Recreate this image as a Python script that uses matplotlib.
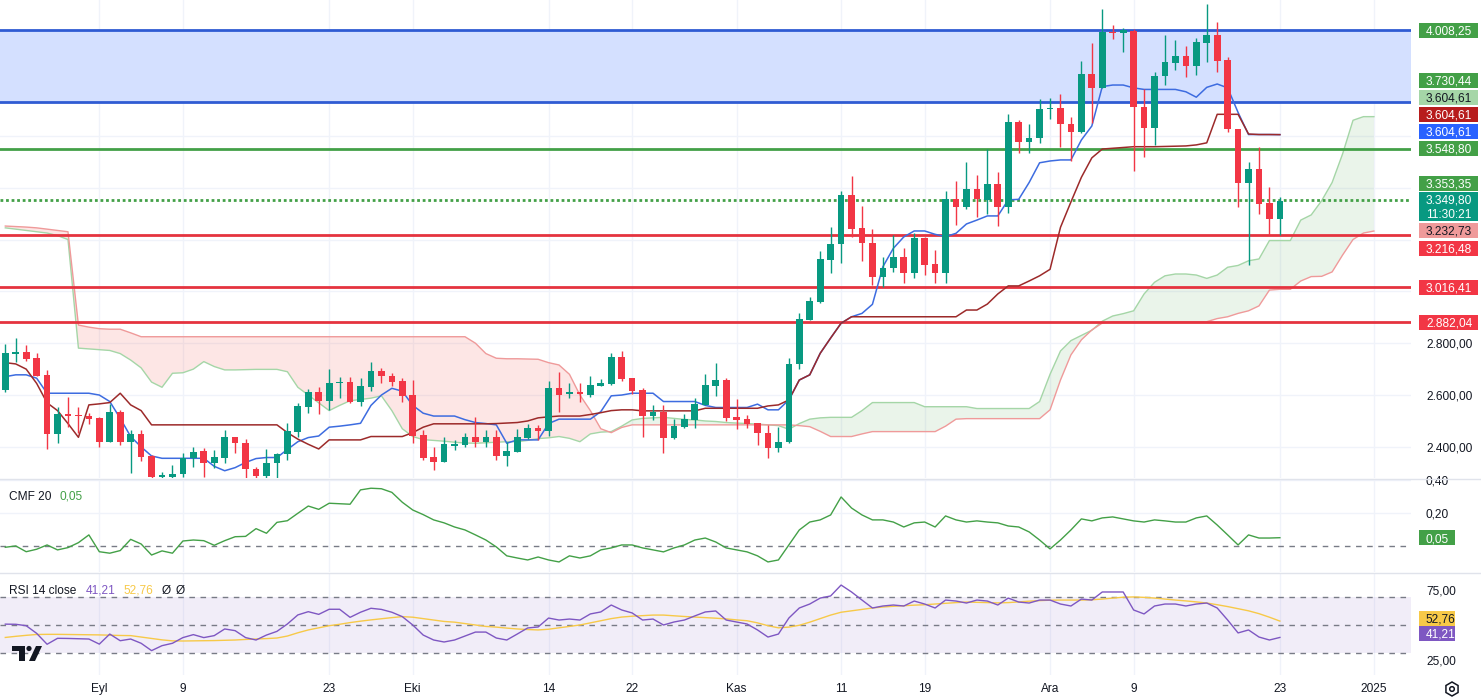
import matplotlib
matplotlib.use("Agg")
import matplotlib.pyplot as plt
from matplotlib.patches import Rectangle, Polygon, Circle, RegularPolygon
from matplotlib.transforms import IdentityTransform
import numpy as np
import pandas as pd

# ---------------- data ----------------
start_date = "2024-08-23"
opens = [2618, 2758, 2765, 2742, 2678, 2451, 2525, 2524, 2521, 2513,
         2419, 2534, 2420, 2449, 2365, 2282, 2282, 2295, 2356, 2384,
         2337, 2359, 2437, 2414, 2314, 2289, 2337, 2372, 2459, 2555,
         2612, 2578, 2646, 2652, 2575, 2630, 2692, 2674, 2654, 2600,
         2446, 2362, 2343, 2405, 2408, 2437, 2417, 2437, 2365, 2382,
         2436, 2474, 2463, 2626, 2603, 2610, 2600, 2636, 2643, 2746,
         2667, 2620, 2521, 2536, 2436, 2478, 2504, 2562, 2636, 2658,
         2516, 2508, 2491, 2453, 2395, 2418, 2719, 2890, 2959, 3121,
         3182, 3372, 3243, 3188, 3057, 3089, 3132, 3072, 3205, 3104,
         3070, 3355, 3327, 3394, 3353, 3414, 3324, 3652, 3577, 3590,
         3703, 3706, 3644, 3613, 3838, 3786, 4002, 3996, 4006, 3710,
         3629, 3831, 3882, 3908, 3871, 3959, 3989, 3893, 3625, 3417,
         3471, 3340, 3279]
highs = [2797, 2819, 2793, 2761, 2697, 2555, 2594, 2555, 2530, 2515,
         2566, 2543, 2465, 2465, 2367, 2305, 2330, 2378, 2399, 2395,
         2388, 2465, 2440, 2430, 2324, 2391, 2375, 2491, 2571, 2622,
         2630, 2700, 2671, 2671, 2665, 2728, 2703, 2684, 2665, 2658,
         2465, 2401, 2437, 2427, 2453, 2517, 2465, 2465, 2417, 2468,
         2489, 2485, 2656, 2688, 2646, 2648, 2674, 2661, 2761, 2771,
         2667, 2626, 2562, 2562, 2507, 2526, 2588, 2681, 2723, 2665,
         2585, 2523, 2491, 2485, 2476, 2742, 2916, 2980, 3157, 3250,
         3387, 3445, 3329, 3240, 3134, 3217, 3166, 3224, 3209, 3160,
         3387, 3426, 3500, 3449, 3548, 3462, 3683, 3661, 3646, 3741,
         3747, 3760, 3674, 3889, 3960, 4089, 4027, 4017, 4011, 3779,
         3847, 3989, 3970, 3947, 3976, 4108, 4040, 3905, 3625, 3498,
         3558, 3401, 3365]
lows = [2610, 2727, 2733, 2672, 2391, 2414, 2478, 2453, 2489, 2399,
        2417, 2408, 2301, 2347, 2275, 2275, 2275, 2285, 2324, 2285,
        2319, 2337, 2376, 2280, 2280, 2280, 2280, 2350, 2440, 2530,
        2526, 2543, 2588, 2571, 2558, 2616, 2648, 2633, 2575, 2414,
        2350, 2311, 2340, 2388, 2401, 2401, 2399, 2350, 2327, 2380,
        2430, 2427, 2442, 2536, 2588, 2575, 2594, 2633, 2639, 2656,
        2604, 2440, 2504, 2378, 2430, 2472, 2472, 2560, 2598, 2501,
        2468, 2472, 2408, 2356, 2382, 2416, 2700, 2888, 2956, 3070,
        3108, 3211, 3118, 3025, 3018, 3076, 3034, 3050, 3063, 3031,
        3034, 3256, 3317, 3286, 3299, 3252, 3304, 3533, 3535, 3571,
        3663, 3558, 3504, 3610, 3648, 3783, 3972, 3924, 3465, 3517,
        3565, 3796, 3854, 3828, 3835, 3886, 3847, 3616, 3324, 3102,
        3299, 3217, 3217]
closes = [2761, 2765, 2740, 2675, 2451, 2526, 2521, 2520, 2508, 2419,
          2534, 2419, 2449, 2362, 2285, 2290, 2296, 2356, 2382, 2337,
          2362, 2437, 2414, 2314, 2289, 2337, 2372, 2460, 2558, 2612,
          2578, 2648, 2652, 2575, 2633, 2694, 2674, 2652, 2598, 2442,
          2359, 2343, 2410, 2410, 2440, 2417, 2437, 2365, 2384, 2437,
          2474, 2463, 2626, 2600, 2610, 2603, 2639, 2648, 2746, 2661,
          2616, 2521, 2536, 2436, 2481, 2508, 2566, 2639, 2658, 2511,
          2505, 2489, 2453, 2395, 2418, 2719, 2894, 2963, 3124, 3182,
          3372, 3240, 3185, 3057, 3089, 3132, 3072, 3205, 3102, 3070,
          3355, 3327, 3394, 3355, 3414, 3324, 3652, 3577, 3592, 3703,
          3708, 3644, 3613, 3838, 3786, 4000, 3996, 4010, 3710, 3629,
          3831, 3885, 3908, 3871, 3962, 3989, 3890, 3625, 3417, 3471,
          3337, 3279, 3349.80]

conversion_line = [2671, 2678, 2678, 2665, 2607, 2607, 2607, 2607, 2607, 2600,
                   2575, 2510, 2440, 2400, 2365, 2356, 2356, 2356, 2356, 2356,
                   2325, 2308, 2320, 2340, 2355, 2359, 2359, 2390, 2420, 2436,
                   2442, 2476, 2480, 2485, 2491, 2560, 2600, 2626, 2615, 2560,
                   2530, 2519, 2519, 2519, 2505, 2494, 2490, 2485, 2414, 2427,
                   2427, 2427, 2490, 2507, 2507, 2507, 2507, 2536, 2597, 2600,
                   2607, 2607, 2607, 2575, 2575, 2575, 2575, 2560, 2552, 2552,
                   2552, 2552, 2565, 2543, 2543, 2581, 2658, 2678, 2761, 2820,
                   2877, 2902, 2915, 2950, 3095, 3166, 3210, 3233, 3233, 3220,
                   3211, 3224, 3260, 3275, 3291, 3291, 3353, 3355, 3420, 3496,
                   3503, 3507, 3507, 3584, 3638, 3790, 3796, 3796, 3785, 3779,
                   3779, 3779, 3779, 3770, 3749, 3787, 3800, 3785, 3690, 3605,
                   3605, 3605, 3604.61]
base_line = [2725, 2720, 2700, 2645, 2570, 2540, 2490, 2437, 2562, 2566,
             2571, 2607, 2562, 2540, 2485, 2485, 2485, 2485, 2485, 2485,
             2485, 2485, 2485, 2485, 2485, 2485, 2485, 2455, 2430, 2410,
             2392, 2427, 2427, 2427, 2427, 2440, 2440, 2440, 2440, 2455,
             2476, 2489, 2489, 2489, 2489, 2489, 2489, 2490, 2492, 2494,
             2500, 2512, 2516, 2519, 2519, 2519, 2525, 2532, 2540, 2543,
             2543, 2539, 2539, 2539, 2539, 2539, 2539, 2549, 2549, 2549,
             2549, 2549, 2549, 2558, 2562, 2581, 2658, 2678, 2761, 2820,
             2877, 2902, 2902, 2902, 2902, 2902, 2902, 2902, 2902, 2902,
             2902, 2902, 2928, 2928, 2951, 2990, 3021, 3021, 3040, 3060,
             3085, 3247, 3345, 3440, 3515, 3549, 3552, 3555, 3558, 3558,
             3558, 3559, 3560, 3561, 3565, 3573, 3683, 3683, 3683, 3607,
             3605, 3605, 3604.61]
lead_a = [3245, 3240, 3235, 3230, 3225, 3215, 3200, 2781, 2778, 2775,
          2772, 2760, 2735, 2705, 2650, 2630, 2684, 2686, 2700, 2729,
          2710, 2697, 2697, 2698, 2699, 2699, 2699, 2690, 2630, 2600,
          2570, 2540, 2560, 2578, 2583, 2588, 2597, 2540, 2470, 2440,
          2428, 2425, 2422, 2418, 2415, 2414, 2416, 2418, 2420, 2420,
          2425, 2432, 2435, 2440, 2433, 2420, 2450, 2457, 2459, 2480,
          2504, 2510, 2512, 2514, 2510, 2506, 2504, 2500, 2498, 2494,
          2492, 2490, 2488, 2485, 2482, 2468, 2490, 2507, 2512, 2514,
          2514, 2514, 2540, 2571, 2571, 2571, 2571, 2571, 2555, 2555,
          2555, 2555, 2555, 2548, 2548, 2548, 2548, 2548, 2548, 2575,
          2680, 2770, 2810, 2830, 2850, 2885, 2905, 2914, 2925, 2990,
          3035, 3060, 3067, 3067, 3063, 3050, 3063, 3093, 3100, 3118,
          3125, 3196, 3196, 3196, 3275, 3295, 3350, 3420, 3530, 3660,
          3674, 3674]
lead_b = [3252, 3250, 3248, 3245, 3240, 3235, 3230, 2870, 2862, 2856,
          2854, 2854, 2840, 2825, 2825, 2825, 2825, 2825, 2825, 2825,
          2825, 2825, 2825, 2825, 2825, 2825, 2825, 2825, 2825, 2825,
          2825, 2825, 2825, 2825, 2825, 2825, 2825, 2825, 2825, 2825,
          2825, 2825, 2825, 2825, 2825, 2800, 2760, 2742, 2740, 2740,
          2739, 2738, 2725, 2716, 2680, 2600, 2540, 2470, 2455, 2475,
          2485, 2485, 2485, 2485, 2485, 2485, 2485, 2485, 2485, 2485,
          2485, 2485, 2485, 2485, 2485, 2485, 2482, 2478, 2460, 2440,
          2440, 2440, 2450, 2459, 2459, 2459, 2459, 2459, 2459, 2459,
          2480, 2507, 2509, 2509, 2509, 2509, 2509, 2509, 2509, 2509,
          2543, 2658, 2755, 2813, 2851, 2878, 2883, 2883, 2883, 2883,
          2883, 2883, 2883, 2883, 2883, 2883, 2895, 2902, 2915, 2925,
          2944, 3005, 3008, 3008, 3040, 3057, 3058, 3075, 3140, 3200,
          3225, 3232.73]

cmf = [-0.008, 0.0, -0.035, -0.02, 0.006, -0.024, -0.01, 0.02, 0.067, -0.035,
       -0.044, -0.028, 0.04, 0.012, -0.055, -0.03, -0.044, 0.03, 0.036, 0.032,
       0.004, 0.032, 0.056, 0.058, 0.105, 0.077, 0.143, 0.153, 0.198, 0.242,
       0.222, 0.259, 0.256, 0.253, 0.34, 0.35, 0.347, 0.325, 0.265, 0.218,
       0.19, 0.158, 0.14, 0.115, 0.097, 0.067, 0.036, -0.006, -0.06, -0.073,
       -0.085, -0.067, -0.085, -0.097, -0.06, -0.073, -0.06, -0.024, -0.012, 0.006,
       0.006, -0.012, -0.024, -0.036, -0.012, 0.006, 0.036, 0.048, 0.024, -0.012,
       -0.024, -0.036, -0.06, -0.097, -0.085, 0.006, 0.097, 0.145, 0.158, 0.188,
       0.297, 0.23, 0.188, 0.158, 0.158, 0.145, 0.115, 0.14, 0.145, 0.115,
       0.182, 0.158, 0.145, 0.152, 0.145, 0.14, 0.121, 0.115, 0.085, 0.036,
       -0.018, 0.036, 0.097, 0.164, 0.152, 0.17, 0.176, 0.164, 0.152, 0.145,
       0.158, 0.152, 0.145, 0.145, 0.17, 0.182, 0.127, 0.067, 0.006, 0.067,
       0.048, 0.048, 0.05]

rsi = [50.6, 50.5, 49.5, 44.1, 36.4, 40.6, 40.5, 40.3, 40.1, 36.5,
       43.6, 38.9, 40.1, 37.1, 31.9, 35.4, 37.1, 41.1, 43.2, 41.1,
       42.5, 47.2, 46.0, 41.1, 39.4, 42.9, 45.5, 50.7, 57.1, 59.4,
       57.5, 61.1, 61.1, 55.4, 59.0, 61.8, 61.0, 59.0, 55.9, 50.0,
       42.9, 39.4, 38.0, 39.4, 42.2, 45.0, 45.0, 40.8, 39.4, 43.6,
       47.9, 48.6, 54.9, 53.5, 54.2, 53.5, 57.8, 59.2, 64.1, 60.6,
       58.5, 53.5, 54.2, 50.0, 52.1, 53.5, 56.4, 59.2, 59.9, 53.5,
       52.1, 50.7, 46.5, 41.5, 43.6, 54.9, 62.0, 64.8, 69.0, 70.5,
       78.2, 73.3, 67.6, 62.0, 63.4, 64.1, 63.4, 66.9, 64.8, 62.0,
       67.6, 66.9, 65.5, 67.6, 66.9, 64.1, 69.0, 66.2, 65.5, 67.6,
       67.6, 64.8, 63.4, 68.3, 67.6, 73.3, 73.3, 73.3, 60.6, 57.8,
       63.4, 64.8, 64.8, 63.4, 64.8, 65.5, 62.0, 53.5, 44.4, 46.5,
       41.5, 39.4, 41.21]
rsi_ma = [41.2, 42.0, 42.7, 43.3, 43.4, 43.4, 43.3, 43.2, 43.1, 43.0,
          42.8, 42.6, 42.5, 41.5, 40.5, 39.5, 38.8, 38.7, 38.8, 38.9,
          39.0, 39.2, 39.4, 39.8, 40.1, 40.4, 40.8, 42.2, 44.5, 46.5,
          48.0, 49.5, 50.5, 51.7, 52.7, 53.6, 54.4, 55.2, 55.9, 55.5,
          54.5, 53.5, 52.5, 52.0, 51.0, 50.0, 49.0, 48.5, 47.8, 47.2,
          46.8, 46.5, 47.0, 48.0, 49.0, 50.0, 51.5, 53.0, 54.5, 55.6,
          56.2, 56.6, 57.0, 57.0, 56.5, 56.0, 55.6, 55.2, 54.8, 54.3,
          53.6, 53.0, 51.5, 49.5, 48.0, 48.5, 49.8, 52.0, 54.5, 57.0,
          59.0, 60.0, 61.0, 62.0, 62.7, 63.2, 63.6, 64.0, 64.3, 64.8,
          65.3, 65.8, 66.2, 66.0, 65.8, 65.6, 65.8, 66.3, 66.8, 67.2,
          67.5, 67.6, 67.6, 67.6, 67.8, 68.3, 69.0, 69.6, 69.8, 69.5,
          69.0, 68.3, 67.6, 67.0, 66.3, 65.5, 64.3, 63.0, 61.5, 60.0,
          58.0, 55.5, 52.76]

# key levels
zone_low, zone_high = 3730.44, 4008.25
green_level = 3548.80
dotted_level = 3353.35
red_levels = [3216.48, 3016.41, 2882.04]

tick_dates = ["2024-09-01", "2024-09-09", "2024-09-23", "2024-10-01", "2024-10-14",
              "2024-10-22", "2024-11-01", "2024-11-11", "2024-11-19", "2024-12-01",
              "2024-12-09", "2024-12-23", "2025-01-01"]
tick_labels = ["Eyl", "9", "23", "Eki", "14", "22", "Kas", "11", "19", "Ara", "9", "23", "2025"]

# ---------------- styling ----------------
W, H, DPI = 1481, 700, 100
PLOT_R = 1411
GREEN = "#089981"
RED = "#f23645"
TXT = "#131722"
GRID = "#f0f3fa"
FONT = "Liberation Sans"
FS = 8.6
plt.rcParams["font.family"] = [FONT, "DejaVu Sans"]

fig = plt.figure(figsize=(W / DPI, H / DPI), dpi=DPI)
fig.patch.set_facecolor("white")


def axpos(top, bottom):
    return [0, 1 - bottom / H, PLOT_R / W, (bottom - top) / H]


ax = fig.add_axes(axpos(0, 478))
axc = fig.add_axes(axpos(479, 572))
axr = fig.add_axes(axpos(573, 675))

x0d, x1d = -0.507, 134.55
start = pd.Timestamp(start_date)
tick_pos = [(pd.Timestamp(d) - start).days for d in tick_dates]

for a in (ax, axc, axr):
    a.set_xlim(x0d, x1d)
    for s in a.spines.values():
        s.set_visible(False)
    a.set_facecolor("white")
    for tp in tick_pos:
        a.axvline(tp, color=GRID, lw=1, zorder=0)
    a.tick_params(axis="x", length=0, labelbottom=False)
    a.yaxis.tick_right()
    a.tick_params(axis="y", length=0, pad=10.8, labelsize=FS, labelcolor=TXT)


def tr_fmt(v, nd=2):
    s = f"{v:,.{nd}f}"
    return s.replace(",", "X").replace(".", ",").replace("X", ".")


# ---- main panel ----
ax.set_ylim(2280, 4124)
for g in range(2400, 4124, 200):
    ax.axhline(g, color=GRID, lw=1, zorder=0)
ax.set_yticks([2400, 2600, 2800])
ax.set_yticklabels([tr_fmt(v) for v in [2400, 2600, 2800]])
for lab in ax.get_yticklabels():
    lab.set_ha("left")

# zone
ax.axhspan(zone_low, zone_high, color="#d4e0ff", zorder=1, lw=0)
ax.axhline(zone_high, color="#2f5bd3", lw=2, zorder=3)
ax.axhline(zone_low, color="#2f5bd3", lw=2, zorder=3)

# cloud
xa = np.arange(len(lead_a))
A = np.array(lead_a, float)
B = np.array(lead_b, float)
ax.fill_between(xa, A, B, where=A >= B, interpolate=True, color="#43a047", alpha=0.11, lw=0, zorder=1.5)
ax.fill_between(xa, A, B, where=A < B, interpolate=True, color="#f44336", alpha=0.13, lw=0, zorder=1.5)
ax.plot(xa, A, color="#a5d6a7", lw=1, zorder=2)
ax.plot(xa, B, color="#ef9a9a", lw=1, zorder=2)

# levels
ax.axhline(green_level, color="#43a047", lw=2, zorder=3)
ax.axhline(dotted_level, color="#43a047", lw=2, ls=(0, (1, 1)), zorder=3)
for lv in red_levels:
    ax.axhline(lv, color="#e5333f", lw=2, zorder=3)

idx = np.arange(len(closes))
ax.plot(idx, conversion_line, color="#3d6ce0", lw=1.1, zorder=3.5)
ax.plot(idx, base_line, color="#9c2a2a", lw=1.1, zorder=3.6)

o = np.array(opens, float); h = np.array(highs, float)
l = np.array(lows, float); c = np.array(closes, float)
cols = np.where(c >= o, GREEN, RED)
ax.vlines(idx, l, h, colors=cols, lw=1, zorder=4)
ax.bar(idx, np.maximum(np.abs(c - o), 3), bottom=np.minimum(o, c), width=0.64,
       color=cols, lw=0, zorder=5)

# ---- CMF panel ----
axc.set_ylim(-0.158, 0.406)
axc.axhline(0, color="#787b86", lw=1, ls=(0, (4, 4)), zorder=1)
for g in (0.2, 0.4):
    axc.axhline(g, color=GRID, lw=1, zorder=0)
axc.set_yticks([0.2, 0.4])
axc.set_yticklabels(["0,20", "0,40"])
for lab in axc.get_yticklabels():
    lab.set_ha("left")
axc.plot(idx, cmf, color="#43a047", lw=1, zorder=3)

# ---- RSI panel ----
axr.set_ylim(14.7, 86.7)
axr.axhspan(30, 70, color="#7e57c2", alpha=0.1, lw=0, zorder=0.5)
for g in (70, 50, 30):
    axr.axhline(g, color="#787b86", lw=1, ls=(0, (4, 4)), zorder=1)
axr.set_yticks([25, 75])
axr.set_yticklabels(["25,00", "75,00"])
for lab in axr.get_yticklabels():
    lab.set_ha("left")
axr.plot(idx, rsi_ma, color="#f7c948", lw=1, zorder=2)
axr.plot(idx, rsi, color="#7e57c2", lw=1, zorder=3)

# x tick labels
axr.set_xticks(tick_pos)
axr.set_xticklabels(tick_labels)
axr.tick_params(axis="x", labelbottom=True, pad=6, labelsize=FS, labelcolor=TXT)

# separators
for yy in (478.5, 572.5):
    fig.add_artist(plt.Line2D([0, 1], [1 - yy / H, 1 - yy / H], transform=fig.transFigure,
                              color="#e0e3eb", lw=1))

fig.canvas.draw()
ID = IdentityTransform()


def box_label(axis, value, text, bg, fg, dy=0.0, w=59, hgt=15, x0=1419):
    yd = axis.transData.transform((0, value))[1] + dy
    fig.add_artist(Rectangle((x0, yd - hgt / 2), w, hgt, transform=ID,
                             facecolor=bg, edgecolor="none", zorder=10))
    fig.text((x0 + 7) / W, yd / H, text, color=fg, fontsize=FS, ha="left",
             va="center_baseline", zorder=11)


def y_of(axis, value):
    return axis.transData.transform((0, value))[1]


def place(axis, value, text, bg, fg, target_px, **kw):
    dy = (H - target_px) - y_of(axis, value)
    box_label(axis, value, text, bg, fg, dy=dy, **kw)


place(ax, zone_high, tr_fmt(zone_high), "#43a047", "white", 30)
place(ax, zone_low, tr_fmt(zone_low), "#43a047", "white", 80)
place(ax, 3604.61, "3.604,61", "#a5d6a7", TXT, 97)
place(ax, 3604.61, "3.604,61", "#b71c1c", "white", 114)
place(ax, 3604.61, "3.604,61", "#2962ff", "white", 131)
place(ax, green_level, tr_fmt(green_level), "#43a047", "white", 148)
place(ax, dotted_level, tr_fmt(dotted_level), "#43a047", "white", 183)
# current price (two lines)
yc = H - 206
fig.add_artist(Rectangle((1419, yc - 14.5), 59, 29, transform=ID, facecolor="#089981",
                         edgecolor="none", zorder=10))
fig.text(1426 / W, (H - 199) / H, tr_fmt(closes[-1]), color="white", fontsize=FS,
         ha="left", va="center_baseline", zorder=11)
fig.text(1426 / W, (H - 213.5) / H, "11:30:21", color="white", fontsize=FS,
         ha="left", va="center_baseline", zorder=11)
place(ax, lead_b[-1], tr_fmt(lead_b[-1]), "#ef9a9a", TXT, 230)
place(ax, red_levels[0], tr_fmt(red_levels[0]), "#f23645", "white", 248)
place(ax, red_levels[1], tr_fmt(red_levels[1]), "#f23645", "white", 287)
place(ax, red_levels[2], tr_fmt(red_levels[2]), "#f23645", "white", 322)

place(axc, cmf[-1], tr_fmt(cmf[-1]), "#43a047", "white", 537.5, w=36)
place(axr, rsi_ma[-1], tr_fmt(rsi_ma[-1]), "#f7c948", TXT, 618.5, w=36)
place(axr, rsi[-1], tr_fmt(rsi[-1]), "#7e57c2", "white", 633, w=36)

# legends
fig.text(9 / W, (H - 495) / H, "CMF 20", color=TXT, fontsize=FS, va="center_baseline")
fig.text(59 / W, (H - 495) / H, tr_fmt(cmf[-1]), color="#43a047", fontsize=FS, va="center_baseline")
fig.text(9 / W, (H - 589) / H, "RSI 14 close", color=TXT, fontsize=FS, va="center_baseline")
fig.text(86 / W, (H - 589) / H, tr_fmt(rsi[-1]), color="#7e57c2", fontsize=FS, va="center_baseline")
fig.text(124 / W, (H - 589) / H, tr_fmt(rsi_ma[-1]), color="#f7c948", fontsize=FS, va="center_baseline")
fig.text(162 / W, (H - 589) / H, "\u00d8", color=TXT, fontsize=FS, va="center_baseline")
fig.text(176 / W, (H - 589) / H, "\u00d8", color=TXT, fontsize=FS, va="center_baseline")

# TradingView logo
def P(x, y):
    return (x, H - y)

fig.add_artist(Polygon([P(12, 646), P(25, 646), P(25, 661), P(19, 661), P(19, 651), P(12, 651)],
                       closed=True, transform=ID, facecolor="#131722", edgecolor="none", zorder=12))
fig.add_artist(Circle(P(29, 648.5), 2.6, transform=ID, facecolor="#131722", edgecolor="none", zorder=12))
fig.add_artist(Polygon([P(29, 661), P(36, 646), P(42, 646), P(35, 661)], closed=True, transform=ID,
                       facecolor="#131722", edgecolor="none", zorder=12))

# settings icon
fig.add_artist(RegularPolygon(P(1452, 689), 6, radius=7, orientation=0, transform=ID,
                              facecolor="none", edgecolor=TXT, lw=1.1, zorder=12))
fig.add_artist(Circle(P(1452, 689), 2.3, transform=ID, facecolor="none", edgecolor=TXT,
                      lw=1.1, zorder=12))

fig.savefig("out.png", dpi=DPI, facecolor="white")
